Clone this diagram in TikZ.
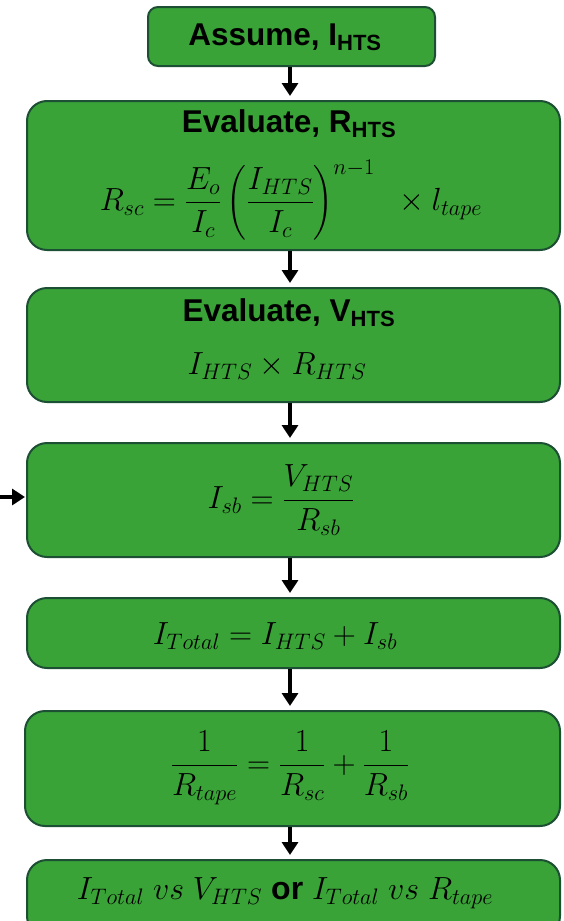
\RequirePackage{fix-cm}
\documentclass[tikz,border=0pt]{standalone}
\usepackage{amsmath}
\usepackage{fontspec}
\setmainfont{Liberation Sans}
\usetikzlibrary{arrows.meta}
\definecolor{boxfill}{HTML}{39A337}
\definecolor{boxedge}{HTML}{1C4F33}
\begin{document}
\begin{tikzpicture}[x=1pt,y=-1pt,
  stepbox/.style={draw=boxedge, fill=boxfill, line width=2pt, rounded corners=20pt,
    inner sep=0pt, minimum width=533pt},
  title/.style={font=\fontsize{31.5}{34}\bfseries\selectfont, inner sep=0pt},
  eqn/.style={font=\fontsize{32}{36}\selectfont, inner sep=0pt},
  flow/.style={-{Triangle[width=16pt,length=13pt]}, line width=3.8pt, shorten >=4pt}]
\useasboundingbox (0,0) rectangle (563,921);

% process boxes
\node[stepbox, rounded corners=10pt, minimum width=287pt, minimum height=59pt] (assume) at (291.5,36.5) {};
\node[stepbox, minimum height=149pt] (rhts) at (293.5,175.5) {};
\node[stepbox, minimum height=114pt] (vhts) at (293.5,345) {};
\node[stepbox, minimum height=114pt] (isb) at (293.5,500) {};
\node[stepbox, minimum height=70pt] (itot) at (293.5,633) {};
\node[stepbox, minimum height=115pt, minimum width=535pt] (rtape) at (292.5,768.5) {};
\node[stepbox, minimum height=76pt] (result) at (293.5,898) {};

% texts
\node[title] (t1) at (285,37) {Assume, I\textsubscript{HTS}};
\node[title] (t2) at (289,124) {Evaluate, R\textsubscript{HTS}};
\node[eqn] (e2) at (291,200) {$R_{sc}=\dfrac{E_o}{I_c}\left(\dfrac{I_{HTS}}{I_c}\right)^{n-1}\;\;\times l_{tape}$};
\node[title] (t3) at (289,313) {Evaluate, V\textsubscript{HTS}};
\node[eqn] (e3) at (277,366) {$I_{HTS}\times R_{HTS}$};
\node[eqn] (e4) at (281,500) {$I_{sb}=\dfrac{V_{HTS}}{R_{sb}}$};
\node[eqn] (e5) at (275,636) {$I_{Total}=I_{HTS}+I_{sb}$};
\node[eqn] (e6) at (290,768) {$\dfrac{1}{R_{tape}}=\dfrac{1}{R_{sc}}+\dfrac{1}{R_{sb}}$};
\node[eqn] (e7) at (285,893) {$I_{Total}\;vs\;V_{HTS}$ {\bfseries or} $I_{Total}\;vs\;R_{tape}$};

% connectors
\draw[flow] (assume.south -| 290,0) -- (rhts.north -| 290,0);
\draw[flow] (rhts.south -| 290,0) -- (vhts.north -| 290,0);
\draw[flow] (vhts.south -| 290,0) -- (isb.north -| 290,0);
\draw[flow] (isb.south -| 290,0) -- (itot.north -| 290,0);
\draw[flow] (itot.south -| 290,0) -- (rtape.north -| 290,0);
\draw[flow] (rtape.south -| 290,0) -- (result.north -| 290,0);
\coordinate (feed) at (0,497);
\draw[flow, shorten >=1pt] (feed) -- (feed -| isb.west);
\end{tikzpicture}
\end{document}
